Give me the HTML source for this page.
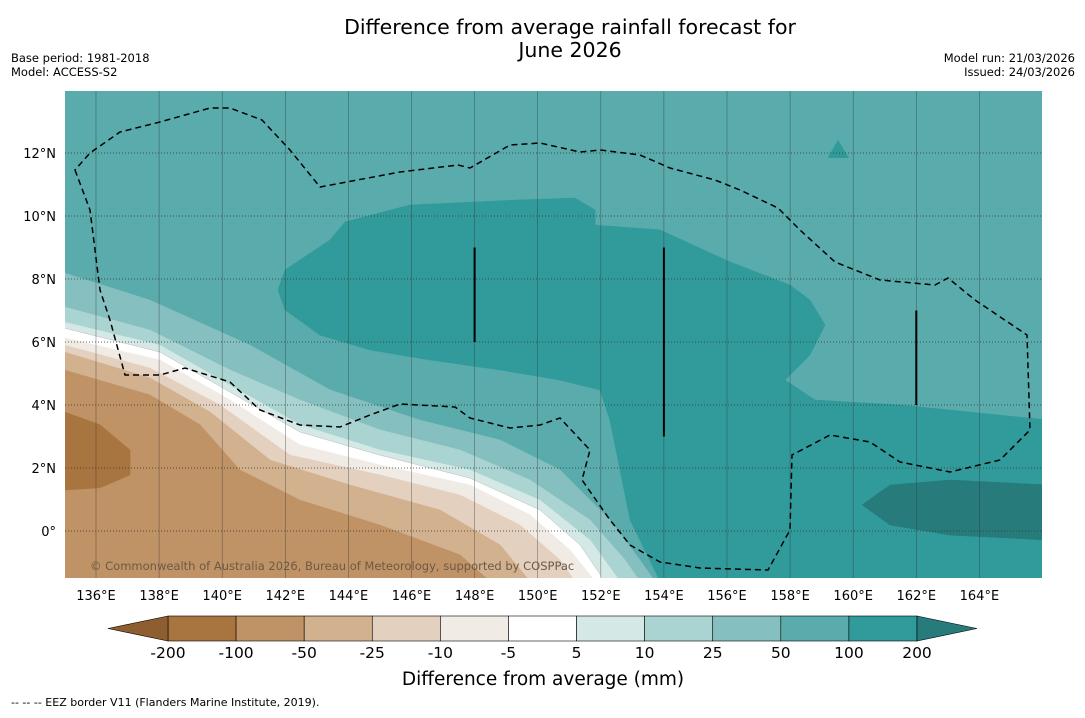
<!DOCTYPE html>
<html><head><meta charset="utf-8"><style>
body{margin:0;background:#fff;font-family:"Liberation Sans","DejaVu Sans",sans-serif;}
svg text{font-family:"DejaVu Sans","Liberation Sans",sans-serif;}
</style></head><body>
<svg id="chart" width="1085" height="713" viewBox="0 0 1085 713" xmlns="http://www.w3.org/2000/svg">
<rect width="1085" height="713" fill="#fff"/>
<text x="570" y="34" font-size="20.5" text-anchor="middle">Difference from average rainfall forecast for</text>
<text x="570" y="57" font-size="20.5" text-anchor="middle">June 2026</text>
<text x="11" y="62" font-size="11.5">Base period: 1981-2018</text>
<text x="11" y="76" font-size="11.5">Model: ACCESS-S2</text>
<text x="1075" y="62" font-size="11.5" text-anchor="end">Model run: 21/03/2026</text>
<text x="1075" y="76" font-size="11.5" text-anchor="end">Issued: 24/03/2026</text>
<defs><clipPath id="mapclip"><rect x="65" y="91" width="977" height="487"/></clipPath></defs>
<g id="map" clip-path="url(#mapclip)"></g>
<g id="overlay" clip-path="url(#mapclip)">
<path fill="none" stroke="#000" stroke-width="1.5" stroke-dasharray="6,4" d="M75,170 L90,210 L100,290 L110,320 L125,375 L160,375 L185,368 L230,382 L260,410 L300,425 L340,427 L370,415 L400,404 L455,407 L470,418 L510,428 L540,425 L560,418 L590,450 L582,480 L610,520 L630,545 L660,562 L700,568 L768,570 L790,530 L792,455 L830,435 L870,442 L900,462 L950,472 L1000,460 L1030,430 L1027,335 L975,300 L948,278 L935,285 L880,280 L835,262 L800,230 L778,208 L740,190 L715,180 L670,168 L640,155 L600,150 L580,152 L540,143 L510,145 L470,168 L458,165 L400,172 L320,187 L290,150 L262,120 L230,108 L210,108 L160,122 L120,132 L90,153 Z"/>
</g>
<text x="90" y="570" font-size="11.5" fill="#6b5a45">© Commonwealth of Australia 2026, Bureau of Meteorology, supported by COSPPac</text>
<g id="axes"></g>
<g id="cbar"></g>
<text x="543" y="685" font-size="18.5" text-anchor="middle">Difference from average (mm)</text>
<text x="11" y="706" font-size="11">--  --  -- EEZ border V11 (Flanders Marine Institute, 2019).</text>
</svg>
<script>
const NS="http://www.w3.org/2000/svg";
const lonTicks=[136,138,140,142,144,146,148,150,152,154,156,158,160,162,164];
const latTicks=[12,10,8,6,4,2,0];
const cbarLabels=["-200","-100","-50","-25","-10","-5","5","10","25","50","100","200"];
const cbarColors=["#a87440","#c09366","#d2b18f","#e4d0bf","#f1ebe6","#ffffff","#d4e8e6","#a9d4d2","#85bfbf","#5aabab","#319a9a"];
const colLow="#8f5e30", colHigh="#277b7b";
const band100=[[143.89,9.81],[145.95,10.35],[149.44,10.51],[151.18,10.57],[151.82,10.19],[151.82,9.71],[153.88,9.56],[156.10,8.54],[158.0,7.81],[158.63,7.33],[159.11,6.54],[158.63,5.59],[157.84,4.79],[158.79,4.16],[161.48,4.0],[166.2,3.52],[166.2,-1.6],[153.88,-1.6],[152.93,0.35],[152.61,1.94],[152.29,3.52],[151.97,4.48],[150.71,4.79],[148.81,5.11],[146.59,5.43],[144.68,5.75],[143.1,6.22],[141.99,7.02],[141.77,7.65],[141.99,8.29],[143.42,9.24]];
const band200=[[160.28,0.83],[161.17,1.46],[163.07,1.62],[166.2,1.46],[166.2,-0.29],[163.07,-0.13],[161.17,0.19]];
const islandPatch=[[159.52,12.4],[159.2,11.85],[159.85,11.85]];
const bands=[
 {c:"#85bfbf",p:[[135,8.19],[137.71,7.33],[140.88,5.90],[143.42,4.48],[146.27,3.52],[148.81,2.89],[150.71,1.94],[152.29,0.35],[153.24,-0.92],[153.72,-1.6]]},
 {c:"#a9d4d2",p:[[135,7.11],[137.71,6.38],[140.25,5.11],[142.47,4.16],[145.0,3.21],[147.54,2.57],[149.76,1.62],[151.66,0.35],[152.77,-0.92],[153.24,-1.6]]},
 {c:"#d4e8e6",p:[[135,6.63],[138.03,5.90],[140.25,4.63],[142.47,3.37],[145.0,2.57],[147.85,1.94],[150.07,0.98],[151.66,-0.29],[152.61,-1.6]]},
 {c:"#ffffff",p:[[135,6.44],[138.03,5.68],[140.25,4.41],[142.47,3.14],[145.0,2.41],[147.85,1.68],[150.07,0.67],[151.34,-0.44],[152.13,-1.6]]},
 {c:"#f1ebe6",p:[[135,6.13],[138.03,5.43],[140.25,4.16],[142.47,2.73],[145.0,2.10],[147.85,1.46],[149.76,0.51],[151.02,-0.60],[151.82,-1.6]]},
 {c:"#e4d0bf",p:[[135,5.90],[137.71,5.17],[139.93,4.0],[142.15,2.41],[145.0,1.78],[147.54,1.14],[149.44,0.19],[150.71,-0.92],[151.18,-1.6]]},
 {c:"#d2b18f",p:[[135,5.68],[137.71,4.86],[139.61,3.78],[141.52,2.25],[144.05,1.46],[146.90,0.67],[148.81,-0.44],[149.76,-1.6]]},
 {c:"#c09366",p:[[135,5.11],[137.71,4.32],[139.30,3.37],[140.56,1.94],[142.47,0.98],[145.0,0.19],[147.54,-0.76],[148.49,-1.6]]}
];
const band_neg100=[[135,3.78],[136.13,3.37],[137.08,2.57],[137.08,1.78],[136.13,1.37],[135,1.30]];
const tracks=[[148,9,6],[154,9,3],[162,7,4]];
function X(lon){return 96+(lon-136)*31.55;}
function Y(lat){return 531-lat*31.5;}
const map=document.getElementById('map');
function poly(pts,fill,name,closeBottom){
 let d=pts.map((q,i)=>(i?"L":"M")+X(q[0]).toFixed(1)+","+Y(q[1]).toFixed(1)).join(" ");
 if(closeBottom) d+=" L"+X(134.8)+","+Y(-1.6)+" L"+X(134.8)+","+Y(pts[0][1]);
 d+=" Z";
 const e=document.createElementNS(NS,'path');
 e.setAttribute('d',d);e.setAttribute('fill',fill);
 e.setAttribute('stroke',fill==="#ffffff"?"#bbb":fill);e.setAttribute('stroke-width','0.5');
 
 
 map.appendChild(e);
}
const bg=document.createElementNS(NS,'rect');
bg.setAttribute('x',65);bg.setAttribute('y',91);bg.setAttribute('width',977);bg.setAttribute('height',487);bg.setAttribute('fill','#5aabab');


map.appendChild(bg);
poly(band100,"#319a9a","band-100-200",false);
poly(band200,"#277b7b","band-over-200",false);
poly(islandPatch,"#319a9a","band-100-patch",false);
bands.forEach((b,i)=>poly(b.p,b.c,"contour-band-"+i,true));
poly(band_neg100,"#a87440","band-neg100-200",false);
lonTicks.forEach(l=>{const e=document.createElementNS(NS,'line');e.setAttribute('x1',X(l));e.setAttribute('x2',X(l));e.setAttribute('y1',91);e.setAttribute('y2',578);e.setAttribute('stroke','#333');e.setAttribute('stroke-width','0.6');e.setAttribute('stroke-opacity','0.6');
 
 
 map.appendChild(e);});
latTicks.forEach(l=>{const e=document.createElementNS(NS,'line');e.setAttribute('x1',65);e.setAttribute('x2',1042);e.setAttribute('y1',Y(l));e.setAttribute('y2',Y(l));e.setAttribute('stroke','#333');e.setAttribute('stroke-width','0.8');e.setAttribute('stroke-dasharray','1,2');
 
 
 map.appendChild(e);});
tracks.forEach(t=>{const e=document.createElementNS(NS,'line');e.setAttribute('x1',X(t[0]));e.setAttribute('x2',X(t[0]));e.setAttribute('y1',Y(t[1]));e.setAttribute('y2',Y(t[2]));e.setAttribute('stroke','#000');e.setAttribute('stroke-width','2');
 
 
 map.appendChild(e);});
const axes=document.getElementById('axes');
lonTicks.forEach(l=>{const t=document.createElementNS(NS,'text');t.setAttribute('x',X(l));t.setAttribute('y',600);t.setAttribute('font-size','13');t.setAttribute('text-anchor','middle');t.textContent=l+"°E";
 
 
 axes.appendChild(t);});
latTicks.forEach(l=>{const t=document.createElementNS(NS,'text');t.setAttribute('x',56);t.setAttribute('y',Y(l)+5);t.setAttribute('font-size','13');t.setAttribute('text-anchor','end');t.textContent=l===0?"0°":l+"°N";
 
 
 axes.appendChild(t);});
const cb=document.getElementById('cbar');
const cx0=168,cx1=917,cy=616,ch=25,bw=(cx1-cx0)/cbarColors.length;
cbarColors.forEach((c,i)=>{const r=document.createElementNS(NS,'rect');r.setAttribute('x',cx0+i*bw);r.setAttribute('y',cy);r.setAttribute('width',bw);r.setAttribute('height',ch);r.setAttribute('fill',c);r.setAttribute('stroke','#000');r.setAttribute('stroke-width','0.6');
 
 
 cb.appendChild(r);});
const tl=document.createElementNS(NS,'path');tl.setAttribute('d',`M${cx0},${cy} L108,${cy+ch/2} L${cx0},${cy+ch} Z`);tl.setAttribute('fill',colLow);tl.setAttribute('stroke','#000');tl.setAttribute('stroke-width','0.6');


cb.appendChild(tl);
const tr=document.createElementNS(NS,'path');tr.setAttribute('d',`M${cx1},${cy} L977,${cy+ch/2} L${cx1},${cy+ch} Z`);tr.setAttribute('fill',colHigh);tr.setAttribute('stroke','#000');tr.setAttribute('stroke-width','0.6');


cb.appendChild(tr);
cbarLabels.forEach((s,i)=>{const t=document.createElementNS(NS,'text');t.setAttribute('x',cx0+i*bw);t.setAttribute('y',658);t.setAttribute('font-size','15.5');t.setAttribute('text-anchor','middle');t.textContent=s;
 
 
 cb.appendChild(t);});
</script>
</body></html>
